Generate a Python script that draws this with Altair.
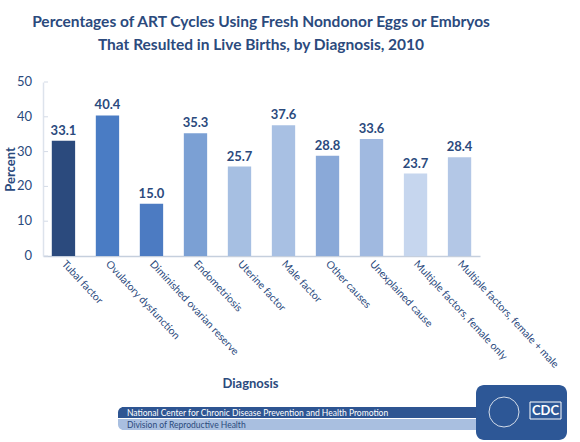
import altair as alt
import pandas as pd

# ART live-birth percentages by diagnosis, 2010
diagnoses = [
    "Tubal factor",
    "Ovulatory dysfunction",
    "Diminished ovarian reserve",
    "Endometriosis",
    "Uterine factor",
    "Male factor",
    "Other causes",
    "Unexplained cause",
    "Multiple factors, female only",
    "Multiple factors, female + male",
]
percents = [33.1, 40.4, 15.0, 35.3, 25.7, 37.6, 28.8, 33.6, 23.7, 28.4]
bar_colors = [
    "#2b4a7d", "#4a7cc4", "#4c7bc2", "#7ba0d4", "#a6bfe2",
    "#a8c0e3", "#8aa9d8", "#a0b9e0", "#c6d6ee", "#b3c7e6",
]
y_ticks = [0, 10, 20, 30, 40, 50]

NAVY = "#2b4a7d"
FONT = "Lato"
one = pd.DataFrame({"a": [0]})

df = pd.DataFrame({
    "Diagnosis": diagnoses,
    "Percent": percents,
    "label": [f"{v:.1f}" for v in percents],
    "color": bar_colors,
})

y_scale = alt.Scale(domain=[0, 50], nice=False)

x_enc = alt.X(
    "Diagnosis:N",
    sort=diagnoses,
    scale=alt.Scale(paddingInner=0.47, paddingOuter=0.2),
    axis=alt.Axis(
        title="Diagnosis",
        titleFont=FONT, titleFontSize=13, titleFontWeight="bold", titleColor=NAVY,
        titleX=207, titleY=127, titleBaseline="middle",
        labelAngle=47, labelAlign="left", labelBaseline="middle",
        labelFont=FONT, labelFontSize=10.5, labelColor=NAVY,
        labelPadding=6, labelLimit=300,
        ticks=False, domainColor="#c5cfdd", domainWidth=1.5,
    ),
)
y_enc = alt.Y(
    "Percent:Q",
    scale=y_scale,
    axis=alt.Axis(
        title="Percent", values=y_ticks, grid=False, labels=False,
        titleFont=FONT, titleFontSize=13, titleFontWeight="bold", titleColor=NAVY,
        titleX=-33, titleY=87, titleAngle=-90, titleBaseline="middle",
        titleAlign="center",
        ticks=False, domainColor="#dde3ec", domainWidth=1.5,
    ),
)

bars = alt.Chart(df).mark_bar().encode(
    x=x_enc, y=y_enc, color=alt.Color("color:N", scale=None)
)

values = alt.Chart(df).mark_text(
    dy=-10, font=FONT, fontSize=13, fontWeight="bold", color=NAVY
).encode(x=alt.X("Diagnosis:N", sort=diagnoses), y="Percent:Q", text="label:N")

# Value-axis tick labels and short inward tick marks
tick_df = pd.DataFrame({"Percent": y_ticks})
y_tick_marks = alt.Chart(tick_df).mark_rule(color="#d3dae6", strokeWidth=1).encode(
    y="Percent:Q", x=alt.value(1), x2=alt.value(5),
)
y_tick_labels = alt.Chart(tick_df).mark_text(
    font=FONT, fontSize=13, color=NAVY, align="right", baseline="middle"
).encode(y="Percent:Q", x=alt.value(-11), text="Percent:Q")


def fixed_text(txt, x, y, **kw):
    return alt.Chart(one).mark_text(text=txt, font=FONT, **kw).encode(
        x=alt.value(x), y=alt.value(y)
    )


# Title lines
title1 = fixed_text(
    "Percentages of ART Cycles Using Fresh Nondonor Eggs or Embryos", 218, -60,
    fontSize=15.5, fontWeight="bold", color=NAVY, baseline="middle",
)
title2 = fixed_text(
    "That Resulted in Live Births, by Diagnosis, 2010", 218, -37,
    fontSize=15.5, fontWeight="bold", color=NAVY, baseline="middle",
)

# Footer banner
banner_dark = alt.Chart(one).mark_rect(
    color="#2e5592", cornerRadiusTopLeft=8
).encode(x=alt.value(75), x2=alt.value(440), y=alt.value(325), y2=alt.value(336))
banner_light = alt.Chart(one).mark_rect(
    color="#a9bfe0", cornerRadiusBottomLeft=8
).encode(x=alt.value(75), x2=alt.value(440), y=alt.value(337), y2=alt.value(348))
banner_t1 = fixed_text(
    "National Center for Chronic Disease Prevention and Health Promotion", 84, 331,
    fontSize=8.5, color="white", align="left", baseline="middle",
)
banner_t2 = fixed_text(
    "Division of Reproductive Health", 84, 343,
    fontSize=8.5, color=NAVY, align="left", baseline="middle",
)
logo_box = alt.Chart(one).mark_rect(
    color="#2d5796", cornerRadius=8
).encode(x=alt.value(433), x2=alt.value(524), y=alt.value(303), y2=alt.value(358))
logo_inner = alt.Chart(one).mark_rect(
    fill="#2d5796", stroke="white", strokeWidth=1
).encode(x=alt.value(487), x2=alt.value(518), y=alt.value(320), y2=alt.value(337))
logo_text = fixed_text(
    "CDC", 502.5, 329, fontSize=13, fontWeight="bold", color="white", baseline="middle",
)
logo_ring = alt.Chart(one).mark_point(
    shape="circle", size=900, stroke="white", strokeWidth=1, filled=False, opacity=0.8
).encode(x=alt.value(461), y=alt.value(330))

chart = alt.layer(
    bars, values, y_tick_marks, y_tick_labels, title1, title2,
    banner_dark, banner_light, banner_t1, banner_t2,
    logo_box, logo_inner, logo_text, logo_ring,
).properties(
    width=437, height=174,
    autosize=alt.AutoSizeParams(type="none"),
    padding={"left": 43, "top": 82, "right": 100, "bottom": 186},
    background="white",
).configure_view(stroke=None)

chart.save("out.html", embed_options={"renderer": "svg", "actions": False})
